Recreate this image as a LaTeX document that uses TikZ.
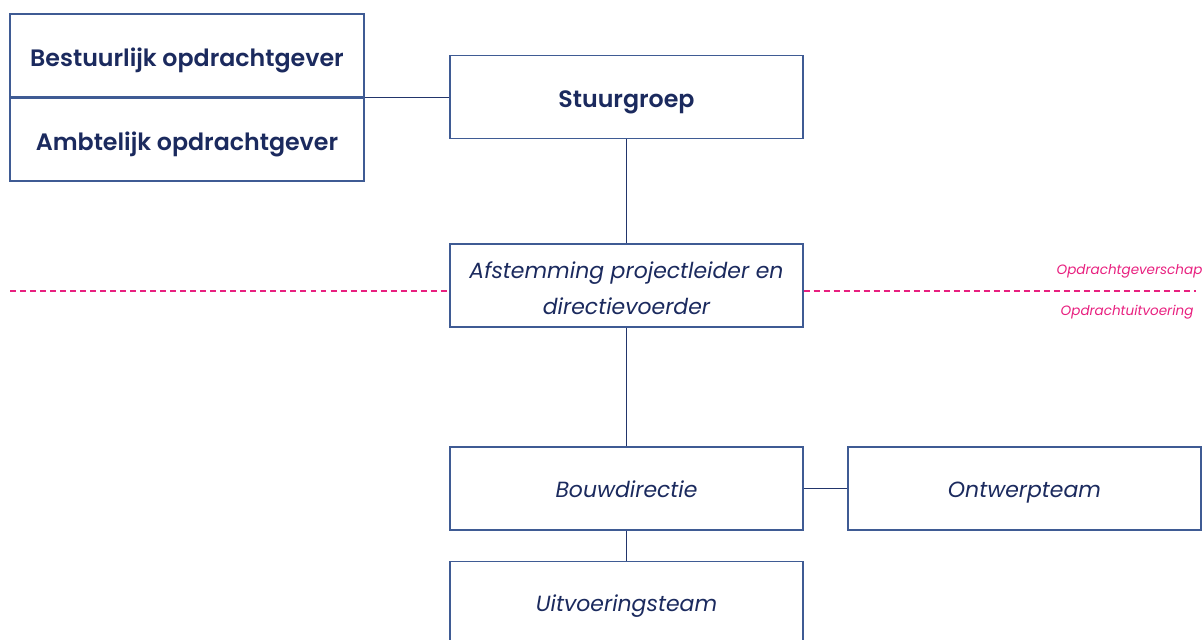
\documentclass[tikz,border=0pt]{standalone}
\usepackage{fontspec}
\setmainfont{Poppins}[BoldFont={Poppins SemiBold}]
\usetikzlibrary{positioning, calc}
\definecolor{cnavy}{HTML}{1B2A5E}
\definecolor{cframe}{HTML}{3F5B94}
\definecolor{cline}{HTML}{22356B}
\definecolor{cpink}{HTML}{E8207F}
\tikzset{
  every picture/.style={font=\rmfamily, line width=0.7pt},
  box/.style={draw=cframe, fill=white, align=center, text=cnavy, inner sep=4pt,
    minimum width=7.06cm, minimum height=1.66cm},
  boldbox/.style={box, font=\fontsize{13.5}{17}\selectfont\bfseries, text height=12.4pt, text depth=0.4pt},
  itbox/.style={box, font=\fontsize{12.5}{20.8}\selectfont\itshape},
  oneline/.style={text height=11pt, text depth=0.6pt},
  link/.style={draw=cline, line width=0.7pt},
  divider/.style={draw=cpink, dash pattern=on 3.4pt off 2.3pt, line width=0.65pt},
  zone/.style={font=\fontsize{7.7}{9}\selectfont\itshape, text=cpink, inner sep=0pt},
}
\begin{document}
\begin{tikzpicture}
  \useasboundingbox (0,0) rectangle (24.08,-12.78);
  % opdrachtgeverschap
  \node[boldbox, minimum width=7.08cm] (bestuur) at (3.74,-1.11) {Bestuurlijk opdrachtgever};
  \node[boldbox, minimum width=7.08cm] (ambt) at (3.74,-2.79) {Ambtelijk opdrachtgever};
  \node[boldbox] (stuur) at (12.53,-1.94) {Stuurgroep};
  \node[itbox] (afst) at (12.53,-5.71) {\rule{0pt}{12.5pt}Afstemming projectleider en\\directievoerder};
  % opdrachtuitvoering
  \node[itbox, oneline] (bouw) at (12.53,-9.77) {Bouwdirectie};
  \node[itbox, oneline] (ontw) at (20.49,-9.77) {Ontwerpteam};
  \node[itbox, oneline, below=0.6cm of bouw] (uitv) {Uitvoeringsteam};
  \coordinate (split) at ($(bestuur.south east)!0.5!(ambt.north east)$);
  \draw[link] (split) -- (split -| stuur.west);
  \draw[link] (stuur) -- (afst);
  \draw[link] (afst) -- (bouw);
  \draw[link] (bouw) -- (ontw);
  \draw[link] (bouw) -- (uitv);
  % scheiding
  \coordinate (dl) at (0.2,-5.82);
  \coordinate (dr) at (23.92,-5.82);
  \draw[divider] (dl) -- (dl -| afst.west);
  \draw[divider] (dr -| afst.east) -- (dr);
  \node[zone, anchor=base east] (gever) at (24.06,-5.48) {Opdrachtgeverschap};
  \node[zone, anchor=base east] (uitvoer) at (23.88,-6.30) {Opdrachtuitvoering};
\end{tikzpicture}
\end{document}
